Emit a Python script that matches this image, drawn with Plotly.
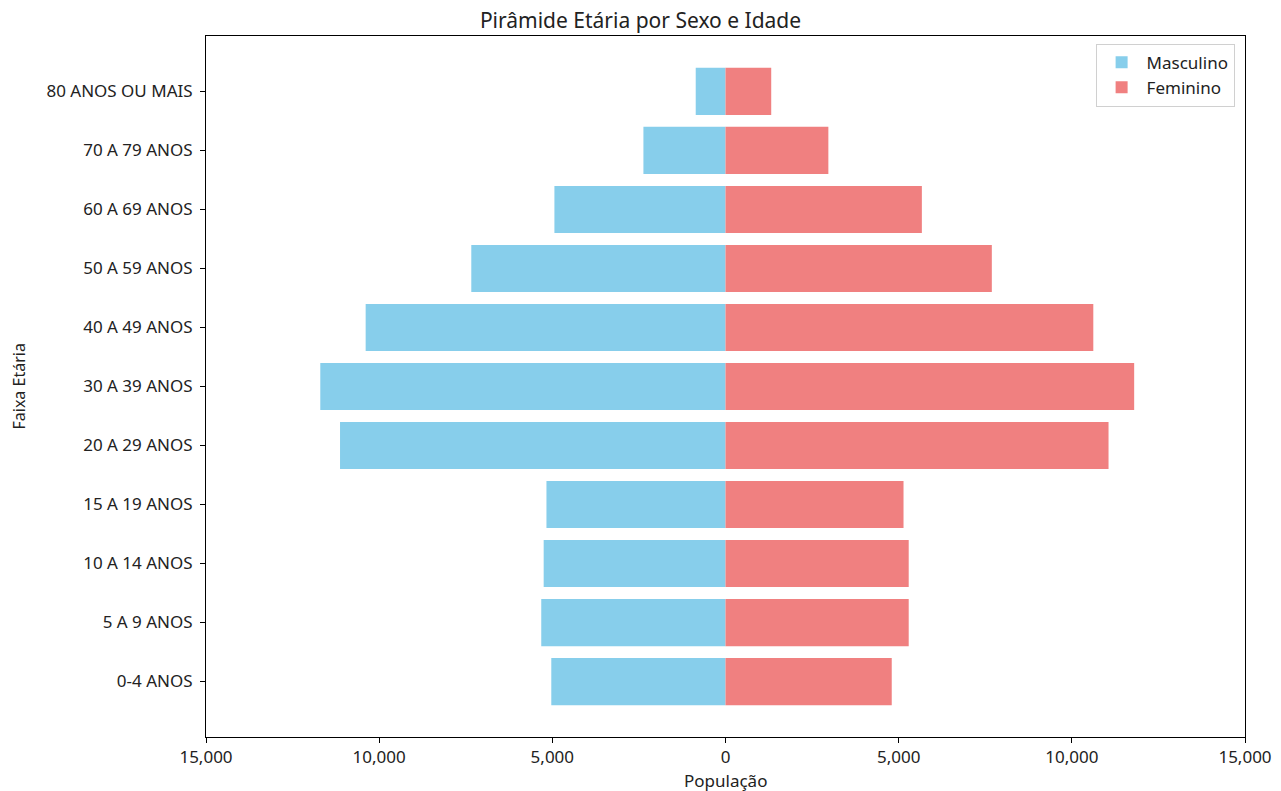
import plotly.graph_objects as go

faixas = ["0-4 ANOS", "5 A 9 ANOS", "10 A 14 ANOS", "15 A 19 ANOS", "20 A 29 ANOS",
          "30 A 39 ANOS", "40 A 49 ANOS", "50 A 59 ANOS", "60 A 69 ANOS",
          "70 A 79 ANOS", "80 ANOS OU MAIS"]
masculino = [5030, 5320, 5250, 5170, 11130, 11700, 10390, 7340, 4940, 2370, 860]
feminino = [4800, 5290, 5290, 5140, 11060, 11800, 10620, 7690, 5670, 2970, 1320]

tick_vals = [-15000, -10000, -5000, 0, 5000, 10000, 15000]
tick_text = ["15,000", "10,000", "5,000", "0", "5,000", "10,000", "15,000"]

font_family = "Noto Sans"

fig = go.Figure()
fig.add_trace(go.Bar(
    y=faixas, x=[-v for v in masculino], orientation="h", name="Masculino",
    marker=dict(color="#87CEEB", line=dict(width=0)), width=0.8,
))
fig.add_trace(go.Bar(
    y=faixas, x=feminino, orientation="h", name="Feminino",
    marker=dict(color="#F08080", line=dict(width=0)), width=0.8,
))

fig.update_layout(
    width=1281, height=791,
    barmode="overlay",
    paper_bgcolor="white", plot_bgcolor="white",
    margin=dict(l=206, r=36, t=36, b=54, autoexpand=False),
    font=dict(family=font_family, size=17, color="#222222"),
    title=dict(text="Pirâmide Etária por Sexo e Idade", x=0.5, xanchor="center",
               y=0.9735, yanchor="middle", font=dict(size=21, family=font_family)),
    legend=dict(x=0.990, y=0.989, xanchor="right", yanchor="top",
                bordercolor="#d0d0d0", borderwidth=1, bgcolor="white",
                font=dict(size=17), itemwidth=40),
    showlegend=True,
    xaxis=dict(range=[-15000, 15000], tickvals=tick_vals, ticktext=tick_text,
               showgrid=False, zeroline=False, showline=True, linecolor="black",
               linewidth=1, mirror=True, ticks="outside", ticklen=5,
               tickcolor="black", automargin=False),
    yaxis=dict(type="category", categoryorder="array", categoryarray=faixas,
               range=[-0.94, 10.94], showgrid=False, zeroline=False,
               showline=True, linecolor="black", linewidth=1, mirror=True,
               ticks="outside", ticklen=5, tickcolor="black", automargin=False,
               ticklabelstandoff=4),
    annotations=[
        dict(text="População", xref="paper", yref="paper", x=0.5, y=0,
             xanchor="center", yanchor="middle", yshift=-43, showarrow=False,
             font=dict(size=17)),
        dict(text="Faixa Etária", xref="paper", yref="paper", x=0, y=0.5,
             xanchor="center", yanchor="middle", xshift=-188, textangle=-90,
             showarrow=False, font=dict(size=16)),
    ],
)

fig.write_html("out.html",
               config={"displayModeBar": False},
               post_script="document.body.style.margin='0px';"
                           "document.body.style.overflow='hidden';")
